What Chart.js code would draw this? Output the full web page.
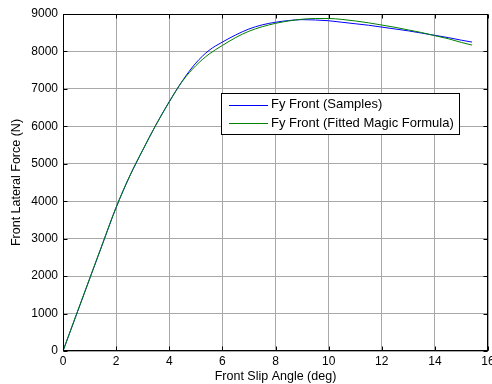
<!DOCTYPE html>
<html>
<head>
<meta charset="utf-8">
<script src="https://cdn.jsdelivr.net/npm/chart.js@4/dist/chart.umd.min.js"></script>
<style>
  html, body { margin: 0; padding: 0; background: #fff; }
</style>
</head>
<body>
<canvas id="chart" width="492" height="384"></canvas>
<script>
// Slip angle samples (deg)
var slipAngles = [0, 0.5, 1, 1.5, 2, 2.5, 3, 3.5, 4, 4.5, 5, 5.5, 6, 6.5, 7, 7.5,
  8, 8.5, 9, 9.5, 10, 10.5, 11, 11.5, 12, 12.5, 13, 13.5, 14, 14.5, 15, 15.4];

// Measured lateral force (N)
var fySamples = [0, 960, 1920, 2880, 3830, 4650, 5360, 6040, 6660, 7220, 7690, 8030,
  8250, 8440, 8600, 8710, 8780, 8825, 8850, 8840, 8820, 8780, 8740, 8700,
  8650, 8600, 8550, 8490, 8430, 8370, 8300, 8250];

// Fitted magic formula (N)
var fyFitted = [0, 970, 1930, 2890, 3840, 4660, 5370, 6040, 6650, 7210, 7620, 7930,
  8160, 8370, 8540, 8660, 8750, 8815, 8860, 8880, 8880, 8855, 8815, 8765,
  8705, 8645, 8575, 8505, 8420, 8340, 8240, 8170];

var seriesLabels = ['Fy Front (Samples)', 'Fy Front (Fitted Magic Formula)'];
var seriesColors = ['#0000ff', '#008000'];
var xTicks = [0, 2, 4, 6, 8, 10, 12, 14, 16];
var yTicks = [0, 1000, 2000, 3000, 4000, 5000, 6000, 7000, 8000, 9000];

var fontFamily = '"Liberation Sans", Arial, sans-serif';

function toPoints(xs, ys) {
  return xs.map(function(x, i) { return { x: x, y: ys[i] }; });
}

// Draws the box frame, inward tick marks and the legend box
var framePlugin = {
  id: 'frame',
  afterDraw: function(chart) {
    var ctx = chart.ctx;
    var a = chart.chartArea;
    var xs = chart.scales.x;
    var ys = chart.scales.y;
    var L = Math.round(a.left) + 0.5, R = Math.round(a.right) - 0.5;
    var T = Math.round(a.top) + 0.5, B = Math.round(a.bottom) - 0.5;

    ctx.save();
    ctx.strokeStyle = '#000';
    ctx.lineWidth = 1;
    ctx.strokeRect(L, T, R - L, B - T);

    ctx.beginPath();
    xTicks.forEach(function(v) {
      var px = Math.round(xs.getPixelForValue(v)) + 0.5;
      ctx.moveTo(px, B); ctx.lineTo(px, B - 4);
      ctx.moveTo(px, T); ctx.lineTo(px, T + 4);
    });
    yTicks.forEach(function(v) {
      var py = Math.round(ys.getPixelForValue(v)) + 0.5;
      ctx.moveTo(L, py); ctx.lineTo(L + 4, py);
      ctx.moveTo(R, py); ctx.lineTo(R - 4, py);
    });
    ctx.stroke();

    // legend
    var bx = 221.5, by = 93.5, bw = 238, bh = 41;
    ctx.fillStyle = '#fff';
    ctx.fillRect(bx, by, bw, bh);
    ctx.strokeStyle = '#000';
    ctx.strokeRect(bx, by, bw, bh);
    ctx.font = '13px ' + fontFamily;
    ctx.textBaseline = 'middle';
    seriesLabels.forEach(function(label, i) {
      var ly = 104.5 + i * 18.5;
      ctx.fillStyle = seriesColors[i];
      ctx.fillRect(229, Math.round(ly), 39, 1);
      ctx.fillStyle = '#000';
      ctx.fillText(label, 271, ly);
    });
    ctx.restore();
  }
};

var ctx = document.getElementById('chart').getContext('2d');
var chart = new Chart(ctx, {
  type: 'scatter',
  data: {
    datasets: [
      {
        label: seriesLabels[0],
        data: toPoints(slipAngles, fySamples),
        borderColor: seriesColors[0],
        borderWidth: 1,
        showLine: true,
        cubicInterpolationMode: 'monotone',
        pointRadius: 0,
        order: 1
      },
      {
        label: seriesLabels[1],
        data: toPoints(slipAngles, fyFitted),
        borderColor: seriesColors[1],
        borderWidth: 1,
        showLine: true,
        cubicInterpolationMode: 'monotone',
        pointRadius: 0,
        order: 0
      }
    ]
  },
  options: {
    responsive: false,
    animation: false,
    layout: { padding: { top: 14, right: 4, left: 0, bottom: 0 } },
    plugins: {
      legend: { display: false },
      tooltip: { enabled: false }
    },
    scales: {
      x: {
        type: 'linear',
        min: 0,
        max: 16,
        afterBuildTicks: function(scale) {
          scale.ticks = xTicks.map(function(v) { return { value: v }; });
        },
        afterFit: function(scale) {
          scale.height = 33;
          scale.paddingLeft = 0;
          scale.paddingRight = 0;
        },
        ticks: {
          color: '#000',
          padding: 3,
          maxRotation: 0,
          autoSkip: false,
          callback: function(v) { return String(v); },
          font: { family: fontFamily, size: 12 }
        },
        grid: { color: '#a8a8a8', drawTicks: false },
        border: { display: false },
        title: {
          display: true,
          text: 'Front Slip Angle (deg)',
          color: '#000',
          padding: 0,
          font: { family: fontFamily, size: 12.5 }
        }
      },
      y: {
        type: 'linear',
        min: 0,
        max: 9000,
        afterBuildTicks: function(scale) {
          scale.ticks = yTicks.map(function(v) { return { value: v }; });
        },
        afterFit: function(scale) {
          scale.width = 63;
          scale.paddingTop = 0;
          scale.paddingBottom = 0;
        },
        ticks: {
          color: '#000',
          padding: 5,
          autoSkip: false,
          callback: function(v) { return String(v); },
          font: { family: fontFamily, size: 12 }
        },
        grid: { color: '#a8a8a8', drawTicks: false },
        border: { display: false },
        title: {
          display: true,
          text: 'Front Lateral Force (N)',
          color: '#000',
          padding: { top: 9, bottom: 0 },
          font: { family: fontFamily, size: 12.5 }
        }
      }
    }
  },
  plugins: [framePlugin]
});
</script>
</body>
</html>
